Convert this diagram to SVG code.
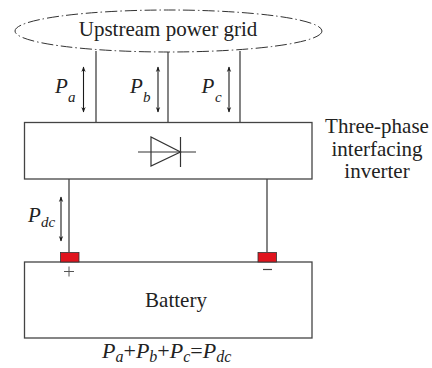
<svg xmlns="http://www.w3.org/2000/svg" width="432" height="368" viewBox="0 0 432 368">
<defs>
<marker id="ah" viewBox="0 0 10 10" refX="9" refY="5" markerWidth="5.5" markerHeight="7" orient="auto-start-reverse" markerUnits="userSpaceOnUse">
<path d="M0,1 L10,5 L0,9 L3,5 Z" fill="#1a1a1a"/>
</marker>
</defs>
<style>
.ln{stroke:#333;stroke-width:1.2;fill:none}
.box{stroke:#444;stroke-width:1.3;fill:#fff}
.arr{stroke:#1a1a1a;stroke-width:1.1;fill:none}
.t{font-size:21px;fill:#222}
.it{font-style:italic;fill:#222}
.term{fill:#e0141e;stroke:#333;stroke-width:0.8}
</style>
<rect width="432" height="368" fill="#fff"/>
<g id="connectors">
<line class="ln" x1="96" y1="51" x2="96" y2="122"/>
<line class="ln" x1="168" y1="52" x2="168" y2="122"/>
<line class="ln" x1="240" y1="51" x2="240" y2="122"/>
<line class="ln" x1="69" y1="179" x2="69" y2="252"/>
<line class="ln" x1="267" y1="179" x2="267" y2="252"/>
<line class="arr" x1="83.5" y1="67" x2="83.5" y2="112" marker-start="url(#ah)" marker-end="url(#ah)"/>
<line class="arr" x1="158" y1="67" x2="158" y2="112" marker-start="url(#ah)" marker-end="url(#ah)"/>
<line class="arr" x1="229" y1="67" x2="229" y2="112" marker-start="url(#ah)" marker-end="url(#ah)"/>
<line class="arr" x1="61" y1="197" x2="61" y2="241" marker-start="url(#ah)" marker-end="url(#ah)"/>
</g>
<g font-family="Liberation Serif, Times New Roman, DejaVu Serif, serif">
<g id="grid">
<ellipse cx="168.5" cy="31" rx="153.5" ry="21" fill="none" stroke="#333" stroke-width="1" stroke-dasharray="12 3 1.5 3"/>
<text class="t" x="168" y="36" text-anchor="middle">Upstream power grid</text>
</g>
<g id="inverter">
<rect class="box" x="24.5" y="122.5" width="287.5" height="56.5"/>
<line class="ln" x1="138" y1="152" x2="196" y2="152"/>
<path class="ln" d="M151,137 L151,166 L180.5,152 Z"/>
<line class="ln" x1="180.5" y1="137" x2="180.5" y2="167"/>
</g>
<g id="inverter-label">
<text class="t" x="377" y="133" text-anchor="middle">Three-phase</text>
<text class="t" x="377" y="156" text-anchor="middle">interfacing</text>
<text class="t" x="377" y="178" text-anchor="middle">inverter</text>
</g>
<g id="battery">
<rect class="box" x="24.5" y="262" width="287.5" height="76"/>
<rect class="term" x="60.5" y="252.5" width="18.5" height="9.5"/>
<rect class="term" x="258" y="252.5" width="18.5" height="9.5"/>
<line x1="64" y1="271.5" x2="74" y2="271.5" stroke="#555" stroke-width="1"/>
<line x1="69" y1="266.5" x2="69" y2="276.5" stroke="#555" stroke-width="1"/>
<line x1="263" y1="269.5" x2="272" y2="269.5" stroke="#444" stroke-width="1.2"/>
<text class="t" x="176" y="307" text-anchor="middle">Battery</text>
</g>
<g id="labels">
<text class="it" x="55" y="93" font-size="21">P</text><text class="it" x="68" y="102" font-size="15">a</text>
<text class="it" x="130" y="93" font-size="21">P</text><text class="it" x="143" y="102" font-size="15">b</text>
<text class="it" x="201.5" y="93" font-size="21">P</text><text class="it" x="215" y="102" font-size="15">c</text>
<text class="it" x="28" y="222" font-size="21">P</text><text class="it" x="41" y="227" font-size="15">dc</text>
<text class="it" x="102" y="358" font-size="22">P<tspan font-size="16" dy="4">a</tspan><tspan font-style="normal" dy="-4">+</tspan>P<tspan font-size="16" dy="4">b</tspan><tspan font-style="normal" dy="-4">+</tspan>P<tspan font-size="16" dy="4">c</tspan><tspan font-style="normal" dy="-4">=</tspan>P<tspan font-size="16" dy="4">dc</tspan></text>
</g>
</g>
</svg>
